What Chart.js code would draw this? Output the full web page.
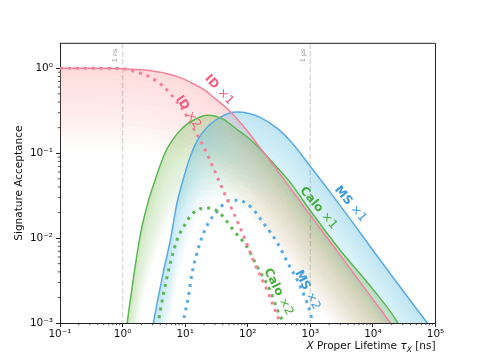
<!DOCTYPE html>
<html>
<head>
<meta charset="utf-8">
<script src="https://cdn.jsdelivr.net/npm/chart.js@4.4.1/dist/chart.umd.min.js"></script>
<style>
  html, body { margin: 0; padding: 0; background: #fff; }
  canvas { display: block; }
</style>
</head>
<body>
<canvas id="chart" width="484" height="363"></canvas>
<script>
// Signature acceptance vs proper lifetime (ns)

// ID x1 (solid) / x2 (dotted)
const idTau1 = [0.1, 0.3, 1, 2, 3, 5, 9, 15, 20, 30, 50, 100, 158, 200, 300, 1000, 3000, 10000, 20000, 30000];
const idAcc1 = [1, 1, 0.99, 0.96, 0.93, 0.87, 0.76, 0.63, 0.56, 0.44, 0.32, 0.18, 0.115, 0.092, 0.062, 0.0185, 0.0063, 0.0019, 0.00095, 0.0006];
const idTau2 = [0.1, 0.5, 1, 1.7, 2.8, 4.4, 5.8, 9.3, 13.4, 20, 28, 40, 59, 90, 122, 200, 300, 400];
const idAcc2 = [1, 1, 0.99, 0.9, 0.78, 0.62, 0.5, 0.32, 0.2, 0.117, 0.068, 0.037, 0.02, 0.0098, 0.0055, 0.0025, 0.0012, 0.0007];

// Calo x1 / x2
const caloTau1 = [1.0, 1.18, 1.5, 1.9, 2.5, 3.3, 4.2, 5.2, 7.5, 10.7, 17, 22, 30, 41, 68, 98, 158, 230, 480, 1000, 3000, 10000, 25000, 35000];
const caloAcc1 = [0.0004, 0.001, 0.0035, 0.0105, 0.025, 0.048, 0.08, 0.115, 0.17, 0.22, 0.265, 0.28, 0.275, 0.25, 0.19, 0.155, 0.112, 0.083, 0.045, 0.021, 0.0072, 0.0025, 0.001, 0.0006];
const caloTau2 = [3.3, 3.7, 4.5, 5.8, 7.4, 9.3, 13.4, 20, 25, 32, 41, 59, 98, 142, 229, 300, 370, 450];
const caloAcc2 = [0.0006, 0.001, 0.0022, 0.0051, 0.0095, 0.0134, 0.0197, 0.0225, 0.0226, 0.021, 0.0177, 0.0124, 0.0078, 0.0046, 0.0024, 0.0014, 0.001, 0.0006];

// MS x1 / x2
const msTau1 = [2.5, 3.1, 4.45, 5.8, 7.4, 9, 12, 15.5, 22, 32, 50, 68, 100, 158, 300, 500, 1000, 2000, 5000, 10000, 20000, 50000, 74000, 100000];
const msAcc1 = [0.0004, 0.001, 0.0039, 0.0095, 0.026, 0.045, 0.09, 0.14, 0.2, 0.25, 0.295, 0.305, 0.296, 0.264, 0.195, 0.135, 0.07, 0.036, 0.0145, 0.0072, 0.0036, 0.00146, 0.001, 0.00072];
const msTau2 = [8.5, 9.3, 11.2, 12.9, 15.5, 18.6, 23.4, 32, 52, 68, 117, 178, 297, 430, 690, 1000, 1150];
const msAcc2 = [0.0006, 0.001, 0.002, 0.0039, 0.0067, 0.0103, 0.015, 0.0203, 0.028, 0.028, 0.0226, 0.015, 0.0088, 0.0052, 0.0027, 0.0013, 0.0008];

// axes
const xTicks = [0.1, 1, 10, 100, 1000, 10000, 100000];
const yTicks = [0.001, 0.01, 0.1, 1];
const yMax = 1.97;

// reference lines and curve labels (data coords)
const refLines = [[1, '1 ns'], [1000, '1 μs']];
const curveLabels = [
  ['ID', '×1', 35, 0.555, 47, 'pink'],
  ['ID', '×2', 11.2, 0.305, 57, 'pink'],
  ['Calo', '×1', 1343, 0.0226, 50, 'green'],
  ['MS', '×1', 4365, 0.0252, 50, 'blue'],
  ['Calo', '×2', 308, 0.00233, 63, 'green'],
  ['MS', '×2', 896, 0.00245, 63, 'blue']
];

const lineColors = { pink: '#f4819a', green: '#5db853', blue: '#5aaae6' };
const textColors = { pink: '#ef5f7e', green: '#47ad3a', blue: '#3c9be0' };

const FONT = "'DejaVu Sans', sans-serif";
const sup = { '-': '⁻', '0': '⁰', '1': '¹', '2': '²', '3': '³', '4': '⁴', '5': '⁵' };

function pairs(xs, ys) {
  return xs.map((x, i) => ({ x: x, y: ys[i] }));
}

function powLabel(v) {
  const e = String(Math.round(Math.log10(v)));
  return '10' + e.split('').map(c => sup[c]).join('');
}

function solid(data, color) {
  return {
    data: data, borderColor: lineColors[color], borderWidth: 1.5,
    fadeColor: lineColors[color], pointRadius: 0, showLine: true,
    cubicInterpolationMode: 'monotone', order: 1
  };
}

function dotted(data, color) {
  return {
    data: data, borderColor: lineColors[color], borderWidth: 3,
    borderDash: [3, 4.95], borderCapStyle: 'butt', pointRadius: 0,
    showLine: true, cubicInterpolationMode: 'monotone', order: 2
  };
}

// soft fills hanging below each solid curve + reference lines
const backdrop = {
  id: 'backdrop',
  beforeDatasetsDraw(chart) {
    const ctx = chart.ctx, area = chart.chartArea;
    const xs = chart.scales.x;

    ctx.save();
    ctx.strokeStyle = '#dadada';
    ctx.lineWidth = 1.5;
    ctx.setLineDash([5.5, 2.4]);
    refLines.forEach(r => {
      const px = xs.getPixelForValue(r[0]);
      ctx.beginPath();
      ctx.moveTo(px, area.top);
      ctx.lineTo(px, area.bottom);
      ctx.stroke();
    });
    ctx.setLineDash([]);
    ctx.fillStyle = '#9a9a9a';
    ctx.font = '6.5px ' + FONT;
    ctx.textAlign = 'left';
    ctx.textBaseline = 'bottom';
    refLines.forEach(r => {
      const px = xs.getPixelForValue(r[0]);
      ctx.save();
      ctx.translate(px - 4, area.top + 19);
      ctx.rotate(-Math.PI / 2);
      ctx.fillText(r[1], 0, 0);
      ctx.restore();
    });
    ctx.restore();

    const N = 14, D = 80;
    chart.data.datasets.forEach((ds, i) => {
      if (!ds.fadeColor) return;
      const line = chart.getDatasetMeta(i).dataset;
      line.updateControlPoints(area, 'x');
      const pts = line.points;
      const first = pts[0], last = pts[pts.length - 1];
      ctx.save();
      ctx.beginPath();
      ctx.rect(area.left, area.top, area.width, area.height);
      ctx.clip();
      ctx.beginPath();
      line.path(ctx);
      ctx.lineTo(last.x, area.bottom + 600);
      ctx.lineTo(first.x, area.bottom + 600);
      ctx.closePath();
      ctx.clip();
      ctx.fillStyle = ds.fadeColor;
      ctx.globalAlpha = 0.027;
      for (let k = 1; k <= N; k++) {
        const d = D * k / N;
        ctx.save();
        ctx.translate(0, d);
        ctx.beginPath();
        line.path(ctx);
        ctx.lineTo(last.x, area.top - 600);
        ctx.lineTo(first.x, area.top - 600);
        ctx.closePath();
        ctx.restore();
        ctx.fill();
      }
      ctx.restore();
    });
  },
  afterDraw(chart) {
    const ctx = chart.ctx, area = chart.chartArea;
    const xs = chart.scales.x, ys = chart.scales.y;

    // curve labels
    curveLabels.forEach(l => {
      const px = xs.getPixelForValue(l[2]);
      const py = ys.getPixelForValue(l[3]);
      ctx.save();
      ctx.translate(px, py);
      ctx.rotate(l[4] * Math.PI / 180);
      ctx.fillStyle = textColors[l[5]];
      ctx.textBaseline = 'middle';
      ctx.textAlign = 'left';
      ctx.font = 'bold 12px ' + FONT;
      const w1 = ctx.measureText(l[0] + ' ').width;
      ctx.font = '12px ' + FONT;
      const w2 = ctx.measureText(l[1]).width;
      const x0 = -(w1 + w2) / 2;
      ctx.font = 'bold 12px ' + FONT;
      ctx.fillText(l[0], x0, 0);
      ctx.font = '12px ' + FONT;
      ctx.fillText(l[1], x0 + w1, 0);
      ctx.restore();
    });

    // top / right spines
    ctx.save();
    ctx.strokeStyle = '#222';
    ctx.lineWidth = 1;
    ctx.beginPath();
    ctx.moveTo(area.left, area.top);
    ctx.lineTo(area.right, area.top);
    ctx.lineTo(area.right, area.bottom);
    ctx.stroke();

    // minor ticks
    ctx.lineWidth = 0.8;
    ctx.beginPath();
    for (let e = -1; e < 5; e++) {
      for (let m = 2; m <= 9; m++) {
        const px = xs.getPixelForValue(m * Math.pow(10, e));
        ctx.moveTo(px, area.bottom);
        ctx.lineTo(px, area.bottom + 2.2);
      }
    }
    for (let e = -3; e < 1; e++) {
      for (let m = 2; m <= 9; m++) {
        const v = m * Math.pow(10, e);
        if (v > yMax) continue;
        const py = ys.getPixelForValue(v);
        ctx.moveTo(area.left, py);
        ctx.lineTo(area.left - 2.2, py);
      }
    }
    ctx.stroke();

    // axis titles
    ctx.fillStyle = '#111';
    ctx.textBaseline = 'alphabetic';
    ctx.textAlign = 'left';
    const parts = [
      ['italic 10.5px ', 'X', 0],
      ['10.5px ', ' Proper Lifetime ', 0],
      ['italic 10.5px ', 'τ', 0],
      ['italic 7.5px ', 'X', 2.5],
      ['10.5px ', ' [ns]', 0]
    ];
    let total = 0;
    parts.forEach(p => { ctx.font = p[0] + FONT; total += ctx.measureText(p[1]).width; });
    let x = area.right - total;
    parts.forEach(p => {
      ctx.font = p[0] + FONT;
      ctx.fillText(p[1], x, 349 + p[2]);
      x += ctx.measureText(p[1]).width;
    });

    ctx.font = '10.5px ' + FONT;
    ctx.textAlign = 'center';
    ctx.translate(22, (area.top + area.bottom) / 2);
    ctx.rotate(-Math.PI / 2);
    ctx.fillText('Signature Acceptance', 0, 0);
    ctx.restore();
  }
};

const tickFont = { family: FONT, size: 10.5 };

new Chart(document.getElementById('chart').getContext('2d'), {
  type: 'scatter',
  data: {
    datasets: [
      solid(pairs(idTau1, idAcc1), 'pink'),
      solid(pairs(caloTau1, caloAcc1), 'green'),
      solid(pairs(msTau1, msAcc1), 'blue'),
      dotted(pairs(idTau2, idAcc2), 'pink'),
      dotted(pairs(caloTau2, caloAcc2), 'green'),
      dotted(pairs(msTau2, msAcc2), 'blue')
    ]
  },
  options: {
    responsive: false,
    devicePixelRatio: 1,
    animation: false,
    layout: { padding: { left: 0, top: 43.3, right: 48.5, bottom: 0 } },
    plugins: { legend: { display: false }, tooltip: { enabled: false } },
    scales: {
      x: {
        type: 'logarithmic', min: 0.1, max: 100000,
        afterBuildTicks: s => { s.ticks = xTicks.map(v => ({ value: v })); },
        afterFit: s => { s.height = 40; },
        ticks: { callback: v => powLabel(v), font: tickFont, color: '#111', padding: 1, maxRotation: 0, autoSkip: false },
        grid: { drawOnChartArea: false, tickLength: 4, tickColor: '#222', tickWidth: 1 },
        border: { color: '#222', width: 1 }
      },
      y: {
        type: 'logarithmic', min: 0.001, max: yMax,
        afterBuildTicks: s => { s.ticks = yTicks.map(v => ({ value: v })); },
        afterFit: s => { s.width = 60; },
        ticks: { callback: v => powLabel(v), font: tickFont, color: '#111', padding: 3, autoSkip: false },
        grid: { drawOnChartArea: false, tickLength: 4, tickColor: '#222', tickWidth: 1 },
        border: { color: '#222', width: 1 }
      }
    }
  },
  plugins: [backdrop]
});
</script>
</body>
</html>
